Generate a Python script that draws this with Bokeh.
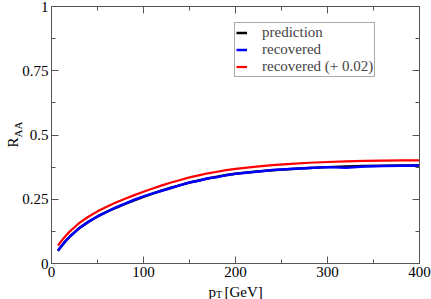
from bokeh.plotting import figure
from bokeh.models import (LinearAxis, SingleIntervalTicker, NumeralTickFormatter,
                          CustomJSTickFormatter, Legend, LegendItem, Label)
from bokeh.embed import file_html
from bokeh.resources import INLINE

# ---- data ----
pt = [7, 10, 15, 20, 25, 30, 40, 50, 60, 70, 80, 90, 100, 110, 120, 130, 140,
      150, 160, 170, 180, 190, 200, 220, 240, 260, 280, 300, 320, 340, 360, 380, 400]
prediction = [0.050, 0.064, 0.086, 0.105, 0.121, 0.137, 0.162, 0.183, 0.201, 0.217,
              0.232, 0.246, 0.259, 0.272, 0.284, 0.295, 0.305, 0.315, 0.323, 0.331,
              0.338, 0.344, 0.349, 0.357, 0.363, 0.368, 0.372, 0.375, 0.377, 0.379,
              0.380, 0.381, 0.381]
recovered = [0.050, 0.064, 0.086, 0.105, 0.121, 0.137, 0.162, 0.183, 0.201, 0.218,
             0.233, 0.248, 0.261, 0.273, 0.283, 0.294, 0.305, 0.315, 0.322, 0.332,
             0.336, 0.343, 0.349, 0.356, 0.364, 0.368, 0.372, 0.375, 0.373, 0.377,
             0.379, 0.380, 0.381]
recovered_shift = [0.070, 0.084, 0.106, 0.125, 0.141, 0.157, 0.182, 0.203, 0.221, 0.237,
                   0.252, 0.266, 0.279, 0.292, 0.304, 0.315, 0.325, 0.335, 0.343, 0.351,
                   0.357, 0.363, 0.368, 0.376, 0.383, 0.388, 0.392, 0.395, 0.397, 0.399,
                   0.400, 0.401, 0.401]
legend_labels = ["prediction", "recovered", "recovered (+ 0.02)"]
x_lo, x_hi = 0, 400
y_lo, y_hi = 0, 1

FONT = "Liberation Serif"
AX = "#555555"

W, H = 431, 299
FL, FR, FT, FB = 51, 419, 6, 263          # frame edges in pixels
sx = (FR - FL) / (x_hi - x_lo)
sy = (FB - FT) / (y_hi - y_lo)
xr = (x_lo - FL / sx, x_lo + (W - FL) / sx)
yr = (y_lo - (H - FB) / sy, y_lo + FB / sy)

p = figure(width=W, height=H, x_range=xr, y_range=yr,
           output_backend="svg", toolbar_location=None,
           min_border_left=0, min_border_right=0, min_border_top=0, min_border_bottom=0,
           x_axis_location=None, y_axis_location=None)
p.xgrid.visible = False
p.ygrid.visible = False
p.outline_line_color = None
p.background_fill_color = "white"
p.border_fill_color = "white"


def make_axis(ticker, loc, bounds, show_labels):
    ax = LinearAxis(ticker=ticker, fixed_location=loc, bounds=bounds)
    ax.axis_line_color = AX
    ax.major_tick_line_color = AX
    ax.minor_tick_line_color = AX
    ax.major_tick_in = 7
    ax.major_tick_out = 0
    ax.minor_tick_in = 4
    ax.minor_tick_out = 0
    ax.major_label_text_font = FONT
    ax.major_label_text_color = "black"
    ax.major_label_text_font_size = "15px"
    if show_labels:
        ax.major_label_standoff = 3
    else:
        ax.major_label_standoff = 0
        ax.formatter = CustomJSTickFormatter(code="return '';")
    return ax


xt = SingleIntervalTicker(interval=100, num_minor_ticks=2)
yt = SingleIntervalTicker(interval=0.25, num_minor_ticks=2)

xb = make_axis(xt, y_lo, (x_lo, x_hi), True)
xb.formatter = NumeralTickFormatter(format="0")
yl = make_axis(yt, x_lo, (y_lo, y_hi), True)
yl.formatter = NumeralTickFormatter(format="0.[00]")
p.add_layout(xb, "below")
p.add_layout(yl, "left")
p.add_layout(make_axis(xt, y_hi, (x_lo, x_hi), False), "above")
p.add_layout(make_axis(yt, x_hi, (y_lo, y_hi), False), "right")

r1 = p.line(pt, prediction, line_color="black", line_width=2.5)
r2 = p.line(pt, recovered, line_color="#0000ff", line_width=2.5)
r3 = p.line(pt, recovered_shift, line_color="#ff0000", line_width=2.2)

legend = Legend(items=[LegendItem(label=legend_labels[0], renderers=[r1]),
                       LegendItem(label=legend_labels[1], renderers=[r2]),
                       LegendItem(label=legend_labels[2], renderers=[r3])],
                location=(234, H - 77))
legend.label_text_font = FONT
legend.label_text_font_size = "15px"
legend.glyph_width = 11
legend.glyph_height = 15
legend.label_height = 15
legend.label_standoff = 15
legend.spacing = 0
legend.padding = 1
legend.margin = 0
legend.border_line_color = AX
legend.border_line_width = 1
legend.background_fill_color = "white"
legend.background_fill_alpha = 1
p.add_layout(legend)


def dx(px):
    return x_lo + (px - FL) / sx


def dy(py):
    return y_lo + (FB - py) / sy


lbl_kw = dict(text_color="black", text_baseline="alphabetic", text_align="left", text_font=FONT)
p.add_layout(Label(x=dx(208), y=dy(291), text="p", text_font_size="15px", **lbl_kw))
p.add_layout(Label(x=dx(215.5), y=dy(294), text="T", text_font_size="10px", **lbl_kw))
p.add_layout(Label(x=dx(224), y=dy(291), text="[GeV]", text_font_size="15px", **lbl_kw))
p.add_layout(Label(x=dx(12), y=dy(147), text="R", angle=90, angle_units="deg",
                   text_font_size="15px", **lbl_kw))
p.add_layout(Label(x=dx(17), y=dy(137), text="AA", angle=90, angle_units="deg",
                   text_font_size="11px", **lbl_kw))

open("out.html", "w").write(file_html(p, INLINE))
